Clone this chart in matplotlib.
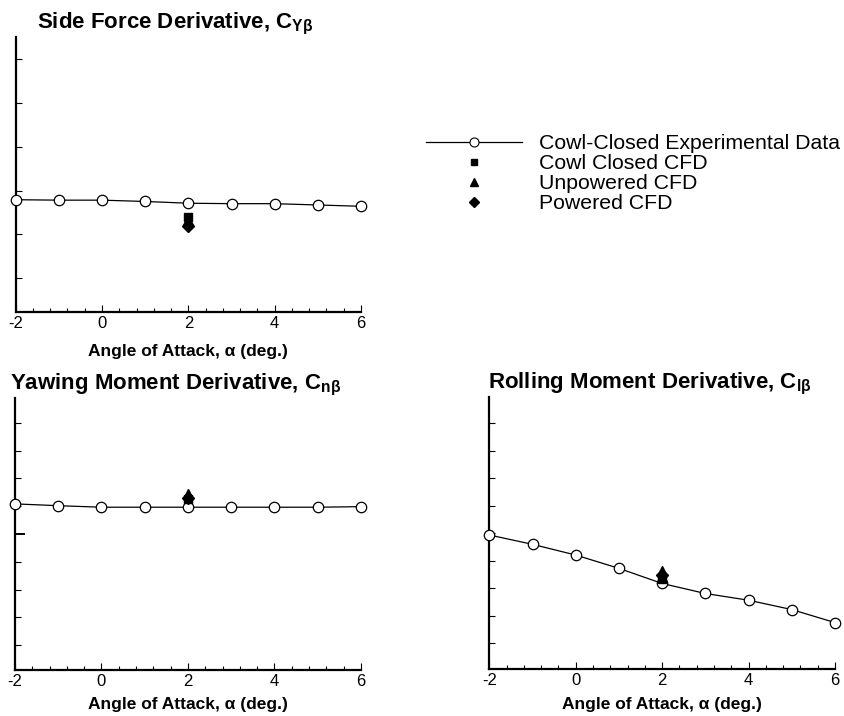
"""Stability derivatives vs angle of attack: experiment and CFD points."""

import matplotlib
matplotlib.use("Agg")
import matplotlib.pyplot as plt
from matplotlib.lines import Line2D
from matplotlib.ticker import MultipleLocator

plt.rcParams["font.family"] = ["Liberation Sans", "DejaVu Sans"]
plt.rcParams["mathtext.fontset"] = "custom"
plt.rcParams["mathtext.rm"] = "Liberation Sans:bold"
plt.rcParams["mathtext.bf"] = "Liberation Sans:bold"
plt.rcParams["axes.unicode_minus"] = False

# experimental sweep (angle of attack, deg)
alpha = [-2, -1, 0, 1, 2, 3, 4, 5, 6]
cy_beta = [2.79, 2.78, 2.78, 2.75, 2.71, 2.70, 2.70, 2.67, 2.64]
cn_beta = [0.217, 0.204, 0.193, 0.193, 0.193, 0.193, 0.193, 0.193, 0.197]
cl_beta = [-0.012, -0.080, -0.158, -0.255, -0.365, -0.438, -0.487, -0.555, -0.650]

# CFD points at alpha = 2
cfd_alpha = 2
cfd_closed = {"cy": 2.39, "cn": 0.25, "cl": -0.333}
cfd_unpowered = {"cy": 2.32, "cn": 0.29, "cl": -0.275}
cfd_powered = {"cy": 2.20, "cn": 0.26, "cl": -0.304}

legend_labels = ["Cowl-Closed Experimental Data", "Cowl Closed CFD",
                 "Unpowered CFD", "Powered CFD"]

W, H = 845, 716
fig = plt.figure(figsize=(W / 100, H / 100), dpi=100)


def box(l, r, b, t):
    return [l / W, 1 - b / H, (r - l) / W, (b - t) / H]


def style(ax, pad):
    for s in ("top", "right"):
        ax.spines[s].set_visible(False)
    for s in ("left", "bottom"):
        ax.spines[s].set_linewidth(1.6)
    ax.set_xlim(-2, 6)
    ax.xaxis.set_major_locator(MultipleLocator(2))
    ax.xaxis.set_minor_locator(MultipleLocator(0.4))
    ax.tick_params(axis="both", which="both", direction="in", width=0.8)
    ax.tick_params(axis="x", which="major", length=5, labelsize=12, pad=3)
    ax.tick_params(axis="x", which="minor", length=3)
    ax.tick_params(axis="y", which="both", labelleft=False)
    ax.set_xlabel("Angle of Attack, \u03b1 (deg.)", fontsize=12.5,
                  fontweight="bold", labelpad=pad)


def draw(ax, y, key):
    ax.plot(alpha, y, color="black", lw=0.9, marker="o", ms=7.5,
            mfc="white", mec="black", mew=0.9, clip_on=False, zorder=3)
    ax.plot([cfd_alpha], [cfd_closed[key]], "s", color="black", ms=6, zorder=4)
    ax.plot([cfd_alpha], [cfd_unpowered[key]], "^", color="black", ms=7, zorder=4)
    ax.plot([cfd_alpha], [cfd_powered[key]], "D", color="black", ms=6, zorder=4)


title_kw = dict(fontsize=16, fontweight="bold", pad=6, x=0.463)

ax1 = fig.add_axes(box(15.7, 361, 312, 37))
style(ax1, 9)
draw(ax1, cy_beta, "cy")
ax1.set_ylim(0.23, 6.5)
ax1.set_yticks([1, 2, 3, 4, 5, 6])
ax1.tick_params(axis="y", length=4)
ax1.set_title("Side Force Derivative, C$_{\\mathrm{Y\u03b2}}$", **title_kw)

ax2 = fig.add_axes(box(15, 361, 670, 398))
style(ax2, 6)
draw(ax2, cn_beta, "cn")
ax2.set_ylim(-0.98, 0.98)
ax2.set_yticks([0])
ax2.yaxis.set_minor_locator(MultipleLocator(0.2))
ax2.tick_params(axis="y", which="major", length=7, width=1.4)
ax2.tick_params(axis="y", which="minor", length=4)
ax2.set_title("Yawing Moment Derivative, C$_{\\mathrm{n\u03b2}}$", **title_kw)

ax3 = fig.add_axes(box(489.3, 835, 669.3, 396.7))
style(ax3, 6)
draw(ax3, cl_beta, "cl")
ax3.set_ylim(-0.99, 0.995)
ax3.set_yticks([0])
ax3.yaxis.set_minor_locator(MultipleLocator(0.2))
ax3.tick_params(axis="y", which="major", length=4)
ax3.tick_params(axis="y", which="minor", length=4)
ax3.set_title("Rolling Moment Derivative, C$_{\\mathrm{l\u03b2}}$", **title_kw)

handles = [
    Line2D([], [], color="black", lw=0.9, marker="o", ms=6.5, mfc="white",
           mec="black", mew=0.8),
    Line2D([], [], ls="none", marker="s", color="black", ms=5),
    Line2D([], [], ls="none", marker="^", color="black", ms=6),
    Line2D([], [], ls="none", marker="D", color="black", ms=5),
]
fig.legend(handles, legend_labels, loc="upper left",
           bbox_to_anchor=(426 / W, 1 - 134 / H), frameon=False,
           fontsize=15.3, handlelength=4.5, handletextpad=0.8,
           labelspacing=0.05, borderpad=0, borderaxespad=0)

fig.savefig("out.png", dpi=100)
